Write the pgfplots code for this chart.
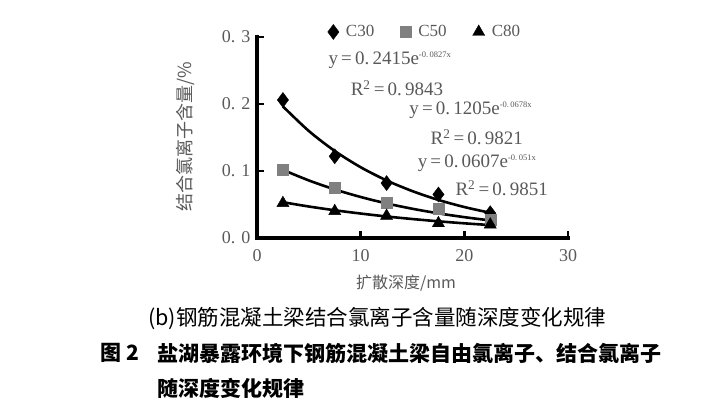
\documentclass[border=0pt]{standalone}
\usepackage{fontspec}
\setmainfont{Liberation Serif}
\newfontfamily\cjk{Noto Sans CJK SC}
\usepackage{pgfplots}
\pgfplotsset{compat=1.18}
\definecolor{txt}{gray}{0.35}
\definecolor{sqgray}{gray}{0.5}
\begin{document}
\begin{tikzpicture}
\path[use as bounding box] (0pt,0pt) rectangle (726pt,412pt);
\begin{axis}[
  at={(257pt,174pt)}, anchor=south west,
  scale only axis, width=311pt, height=201pt,
  xmin=0, xmax=30, ymin=0, ymax=0.3,
  axis x line=bottom, axis y line=left,
  x axis line style={-, line width=3.2pt, black, line cap=rect},
  y axis line style={-, line width=3.2pt, black, line cap=rect},
  xtick={0,10,20,30}, xticklabels={0,10,20,30},
  ytick={0,0.1,0.2,0.3}, yticklabels={{0. 0},{0. 1},{0. 2},{0. 3}},
  major tick style={line width=2.5pt, black},
  major tick length=7pt,
  tick align=inside,
  ticklabel style={font=\fontsize{18}{18}\selectfont, text=txt},
  xticklabel style={yshift=-8pt},
  yticklabel style={xshift=-3pt},
  clip=false,
  legend style={at={(0.54,1.025)}, anchor=center, draw=none, fill=none,
    font=\fontsize{17}{17}\selectfont, text=txt,
    /tikz/every odd column/.append style={column sep=5pt},
    /tikz/every even column/.append style={column sep=24pt}},
  legend columns=3,
]
% trend lines (fitted exponentials, values listed)
\addplot[black, line width=2.6pt, smooth, forget plot] coordinates {
 (2.5,0.1964) (5,0.1597) (7.5,0.1299) (10,0.1056) (12.5,0.0859)
 (15,0.0699) (17.5,0.0568) (20,0.0462) (22.5,0.0376)};
\addplot[black, line width=2.6pt, smooth, forget plot] coordinates {
 (2.5,0.1017) (5,0.0859) (7.5,0.0725) (10,0.0612) (12.5,0.0516)
 (15,0.0436) (17.5,0.0368) (20,0.0311) (22.5,0.0262)};
\addplot[black, line width=2.6pt, smooth, forget plot] coordinates {
 (2.5,0.0534) (5,0.0470) (7.5,0.0414) (10,0.0365) (12.5,0.0321)
 (15,0.0283) (17.5,0.0249) (20,0.0219) (22.5,0.0193)};
% data
\addplot[only marks, mark=diamond*, mark size=7.5pt, black, mark options={fill=black}] coordinates {
 (2.5,0.206) (7.5,0.122) (12.5,0.082) (17.5,0.065) (22.5,0.037)};
\addlegendentry{C30}
\addplot[only marks, mark=square*, mark size=5.5pt, sqgray, mark options={fill=sqgray, draw=gray}] coordinates {
 (2.5,0.102) (7.5,0.075) (12.5,0.053) (17.5,0.044) (22.5,0.027)};
\addlegendentry{C50}
\addplot[only marks, mark=triangle*, mark size=7pt, black, mark options={fill=black}] coordinates {
 (2.5,0.052) (7.5,0.040) (12.5,0.033) (17.5,0.022) (22.5,0.020)};
\addlegendentry{C80}
% equations
\node[text=txt, font=\fontsize{19}{19}\selectfont] at (axis cs:12.8,0.2657)
  {y\,=\,0.\,2415e\raisebox{0.75ex}{\fontsize{8.5}{9}\selectfont -0.\,0827x}};
\node[text=txt, font=\fontsize{19}{19}\selectfont] at (axis cs:13.5,0.2239)
  {R\textsuperscript{2}\,=\,0.\,9843};
\node[text=txt, font=\fontsize{19}{19}\selectfont] at (axis cs:20.6,0.1910)
  {y\,=\,0.\,1205e\raisebox{0.75ex}{\fontsize{8.5}{9}\selectfont -0.\,0678x}};
\node[text=txt, font=\fontsize{19}{19}\selectfont] at (axis cs:21.2,0.1507)
  {R\textsuperscript{2}\,=\,0.\,9821};
\node[text=txt, font=\fontsize{19}{19}\selectfont] at (axis cs:21.2,0.1119)
  {y\,=\,0.\,0607e\raisebox{0.75ex}{\fontsize{8.5}{9}\selectfont -0.\,051x}};
\node[text=txt, font=\fontsize{19}{19}\selectfont] at (axis cs:23.6,0.0746)
  {R\textsuperscript{2}\,=\,0.\,9851};
\end{axis}
% axis labels
\node[text=txt, font=\cjk\fontsize{16}{16}\selectfont] at (406pt,129pt) {扩散深度/mm};
\node[text=txt, font=\cjk\fontsize{18}{18}\selectfont, rotate=90] at (185pt,275pt) {结合氯离子含量/\%};
% captions
\node[anchor=west, inner sep=0pt, font=\cjk\fontsize{21.5}{22}\selectfont] at (148pt,94pt) {(b)钢筋混凝土梁结合氯离子含量随深度变化规律};
\node[anchor=west, inner sep=0pt, font=\cjk\bfseries\fontsize{21}{22}\selectfont] at (100pt,59pt) {图 2};
\node[anchor=west, inner sep=0pt, font=\cjk\bfseries\fontsize{21}{22}\selectfont] at (157pt,59pt) {盐湖暴露环境下钢筋混凝土梁自由氯离子、结合氯离子};
\node[anchor=west, inner sep=0pt, font=\cjk\bfseries\fontsize{21}{22}\selectfont] at (157pt,24pt) {随深度变化规律};
\end{tikzpicture}
\end{document}
